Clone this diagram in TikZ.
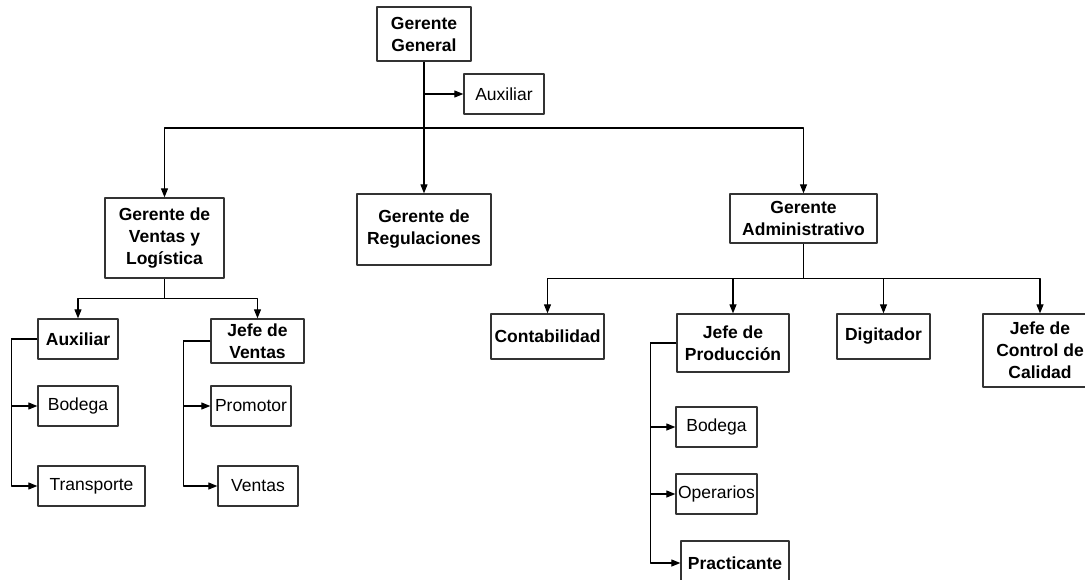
\documentclass[tikz,border=0pt]{standalone}
\usepackage{fontspec}
\setmainfont{Liberation Sans}
\usetikzlibrary{arrows.meta}
\tikzset{
  caja/.style={draw=black!80, line width=1.3pt, align=center, inner sep=0pt, font=\fontsize{17.5}{22}\selectfont\bfseries},
  cajan/.style={caja, font=\fontsize{17.5}{22}\selectfont},
  flecha/.style={-{Triangle[length=9pt,width=7pt]}},
}
\begin{document}
\begin{tikzpicture}[x=1pt, y=-1pt, line width=1.1pt, line join=round]
	\useasboundingbox (0,0) rectangle (1085,579);
	\clip (0,0) rectangle (1085,579);
	% gerencia general
	\node[caja, minimum width=94, minimum height=54] (gg) at (424,34) {Gerente\\General};
	\node[cajan, minimum width=80, minimum height=40] (aux0) at (504,94) {Auxiliar};
	\node[caja, minimum width=119, minimum height=80] (gvl) at (164.5,238) {Gerente de\\Ventas y\\Logística};
	\node[caja, minimum width=134, minimum height=71] (greg) at (424,229.5) {Gerente de\\Regulaciones};
	\node[caja, minimum width=147, minimum height=49] (gadm) at (803.5,218.5) {Gerente\\Administrativo};
	% ventas y logistica
	\node[caja, minimum width=80, minimum height=40] (aux1) at (78,339) {Auxiliar};
	\node[caja, minimum width=93, minimum height=44] (jv) at (257.5,341) {Jefe de\\Ventas};
	\node[cajan, minimum width=80, minimum height=40] (bod1) at (78,406) {Bodega};
	\node[cajan, minimum width=107, minimum height=40] (trans) at (91.5,486) {Transporte};
	\node[cajan, minimum width=80, minimum height=40] (prom) at (251,406) {Promotor};
	\node[cajan, minimum width=80, minimum height=40] (vent) at (258,486) {Ventas};
	% administracion
	\node[caja, minimum width=113, minimum height=45] (cont) at (547.5,336.5) {Contabilidad};
	\node[caja, minimum width=112, minimum height=58] (jp) at (733,343) {Jefe de\\Producción};
	\node[caja, minimum width=93, minimum height=45] (dig) at (883.5,336.5) {Digitador};
	\node[caja, minimum width=114, minimum height=73] (jcc) at (1040,350.5) {Jefe de\\Control de\\Calidad};
	\node[cajan, minimum width=81, minimum height=40] (bod2) at (716.5,427) {Bodega};
	\node[cajan, minimum width=81, minimum height=40] (oper) at (716.5,494) {Operarios};
	\node[caja, minimum width=108, minimum height=44] (prac) at (735,563) {Practicante};
	% conectores
	\draw[flecha] (gg.south) -- (greg.north);
	\draw[flecha] (gg.south |- aux0.west) -- (aux0.west);
	\coordinate (bus) at (424,128);
	\draw[flecha] (bus) -| (gvl.north);
	\draw[flecha] (bus) -| (gadm.north);
	\draw (gvl.south) -- ++(0,20) coordinate (bv);
	\foreach \n in {aux1,jv}
		\draw[flecha] (bv) -| (\n.north);
	\foreach \n in {bod1,trans}
		\draw[flecha] (aux1.west) -- ++(-26,0) |- (\n.west);
	\foreach \n in {prom,vent}
		\draw[flecha] (jv.west) -- ++(-27,0) |- (\n.west);
	\draw (gadm.south) -- ++(0,35) coordinate (ba);
	\foreach \n in {cont,jp,dig,jcc}
		\draw[flecha] (ba) -| (\n.north);
	\foreach \n in {bod2,oper,prac}
		\draw[flecha] (jp.west) -- ++(-26,0) |- (\n.west);
\end{tikzpicture}
\end{document}
